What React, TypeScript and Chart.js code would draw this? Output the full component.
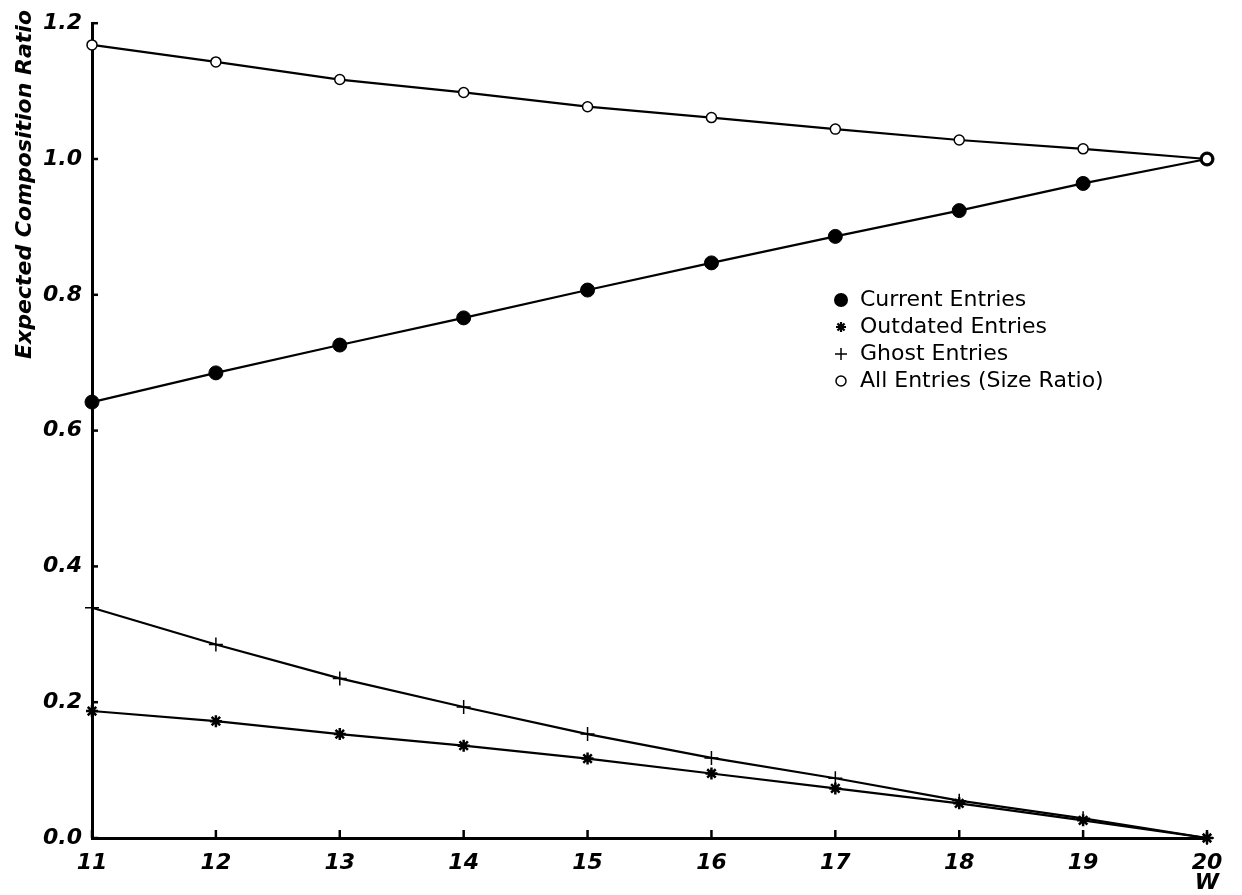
import React, { useEffect, useRef } from "react";
import { Chart, registerables } from "chart.js";

Chart.register(...registerables);

const wValues = [11, 12, 13, 14, 15, 16, 17, 18, 19, 20];
const currentEntries = [0.642, 0.685, 0.726, 0.766, 0.807, 0.847, 0.886, 0.924, 0.964, 1.0];
const outdatedEntries = [0.187, 0.172, 0.153, 0.136, 0.117, 0.095, 0.073, 0.051, 0.026, 0.0];
const ghostEntries = [0.339, 0.285, 0.235, 0.193, 0.153, 0.118, 0.088, 0.055, 0.029, 0.0];
const allEntries = [1.168, 1.143, 1.117, 1.098, 1.077, 1.061, 1.044, 1.028, 1.015, 1.0];

const seriesLabels = ["Current Entries", "Outdated Entries", "Ghost Entries", "All Entries (Size Ratio)"];
const yTitle = "Expected Composition Ratio";
const xTitle = "W";

const tickFont = { family: "DejaVu Sans", size: 22, weight: "bold" as const, style: "italic" as const };

function drawMarker(ctx: CanvasRenderingContext2D, kind: number, x: number, y: number) {
  ctx.save();
  ctx.strokeStyle = "#000";
  ctx.fillStyle = "#000";
  if (kind === 0) {
    ctx.beginPath();
    ctx.arc(x, y, 7, 0, Math.PI * 2);
    ctx.fill();
  } else if (kind === 1) {
    ctx.lineWidth = 2.2;
    ctx.beginPath();
    for (let i = 0; i < 4; i++) {
      const a = (i * Math.PI) / 4;
      ctx.moveTo(x - 5 * Math.cos(a), y - 5 * Math.sin(a));
      ctx.lineTo(x + 5 * Math.cos(a), y + 5 * Math.sin(a));
    }
    ctx.stroke();
  } else if (kind === 2) {
    ctx.lineWidth = 1.5;
    ctx.beginPath();
    ctx.moveTo(x - 6, y);
    ctx.lineTo(x + 6, y);
    ctx.moveTo(x, y - 6);
    ctx.lineTo(x, y + 6);
    ctx.stroke();
  } else {
    ctx.lineWidth = 1.5;
    ctx.fillStyle = "#fff";
    ctx.beginPath();
    ctx.arc(x, y, 5, 0, Math.PI * 2);
    ctx.fill();
    ctx.stroke();
  }
  ctx.restore();
}

const decorPlugin = {
  id: "decor",
  afterDraw(chart: any) {
    const ctx: CanvasRenderingContext2D = chart.ctx;
    const xs = chart.scales.x;
    const ys = chart.scales.y;
    const area = chart.chartArea;
    ctx.save();
    ctx.strokeStyle = "#000";
    ctx.lineWidth = 2.5;
    xs.ticks.forEach((t: any) => {
      const px = xs.getPixelForValue(t.value);
      ctx.beginPath();
      ctx.moveTo(px, area.bottom);
      ctx.lineTo(px, area.bottom - 8);
      ctx.stroke();
    });
    ys.ticks.forEach((t: any) => {
      const py = ys.getPixelForValue(t.value);
      ctx.beginPath();
      ctx.moveTo(area.left, py);
      ctx.lineTo(area.left + 6, py);
      ctx.stroke();
    });
    ctx.fillStyle = "#000";
    ctx.font = "italic bold 22px 'DejaVu Sans'";
    ctx.translate(25, 10);
    ctx.rotate(-Math.PI / 2);
    ctx.textAlign = "right";
    ctx.textBaseline = "middle";
    ctx.fillText(yTitle, 0, 0);
    ctx.restore();

    ctx.save();
    ctx.fillStyle = "#000";
    ctx.font = "italic bold 22px 'DejaVu Sans'";
    ctx.textAlign = "center";
    ctx.textBaseline = "middle";
    ctx.fillText(xTitle, xs.getPixelForValue(20), 883);
    ctx.restore();

    ctx.save();
    ctx.fillStyle = "#000";
    ctx.font = "22px 'DejaVu Sans'";
    ctx.textAlign = "left";
    ctx.textBaseline = "middle";
    seriesLabels.forEach((lab, i) => {
      const y = 300 + i * 27;
      drawMarker(ctx, i, 841, y);
      ctx.fillStyle = "#000";
      ctx.fillText(lab, 860, y);
    });
    ctx.restore();
  },
};

export default function App() {
  const ref = useRef<HTMLCanvasElement>(null);
  useEffect(() => {
    if (!ref.current) return;
    const mk = (arr: number[]) => wValues.map((w, i) => ({ x: w, y: arr[i] }));
    const base = {
      borderColor: "#000",
      borderWidth: 2.2,
      pointBorderColor: "#000",
      fill: false,
      tension: 0,
      clip: false as any,
    };
    const chart = new Chart(ref.current, {
      type: "line",
      data: {
        datasets: [
          { ...base, label: seriesLabels[3], data: mk(allEntries), pointStyle: "circle", pointRadius: 5, pointBackgroundColor: "#fff", pointBorderWidth: 1.5 },
          { ...base, label: seriesLabels[0], data: mk(currentEntries), pointStyle: "circle", pointRadius: 7, pointBackgroundColor: "#000", pointBorderWidth: 1 },
          { ...base, label: seriesLabels[2], data: mk(ghostEntries), pointStyle: "cross", pointRadius: 7, pointBackgroundColor: "#000", pointBorderWidth: 1.5 },
          { ...base, label: seriesLabels[1], data: mk(outdatedEntries), pointStyle: "star", pointRadius: 6, pointBackgroundColor: "#000", pointBorderWidth: 2.5 },
        ],
      },
      options: {
        animation: false,
        responsive: false,
        layout: { padding: { top: 16, right: 35, left: 0, bottom: 0 } },
        plugins: { legend: { display: false }, tooltip: { enabled: false } },
        scales: {
          x: {
            type: "linear",
            min: 11,
            max: 20,
            afterFit: (s: any) => { s.height = 57; },
            ticks: { stepSize: 1, color: "#000", font: tickFont, padding: 12, maxRotation: 0 },
            grid: { display: false, drawTicks: false },
            border: { display: true, color: "#000", width: 3 },
          },
          y: {
            type: "linear",
            min: 0,
            max: 1.2,
            afterFit: (s: any) => { s.width = 92; },
            ticks: { stepSize: 0.2, color: "#000", font: tickFont, padding: 10, callback: (v: any) => Number(v).toFixed(1) },
            grid: { display: false, drawTicks: false },
            border: { display: true, color: "#000", width: 3 },
          },
        },
      },
      plugins: [decorPlugin],
    });
    return () => chart.destroy();
  }, []);
  return (
    <div style={{ position: "absolute", left: 0, top: 0, width: 1242, height: 895, background: "#fff" }}>
      <canvas ref={ref} width={1242} height={895} style={{ display: "block" }} />
    </div>
  );
}
